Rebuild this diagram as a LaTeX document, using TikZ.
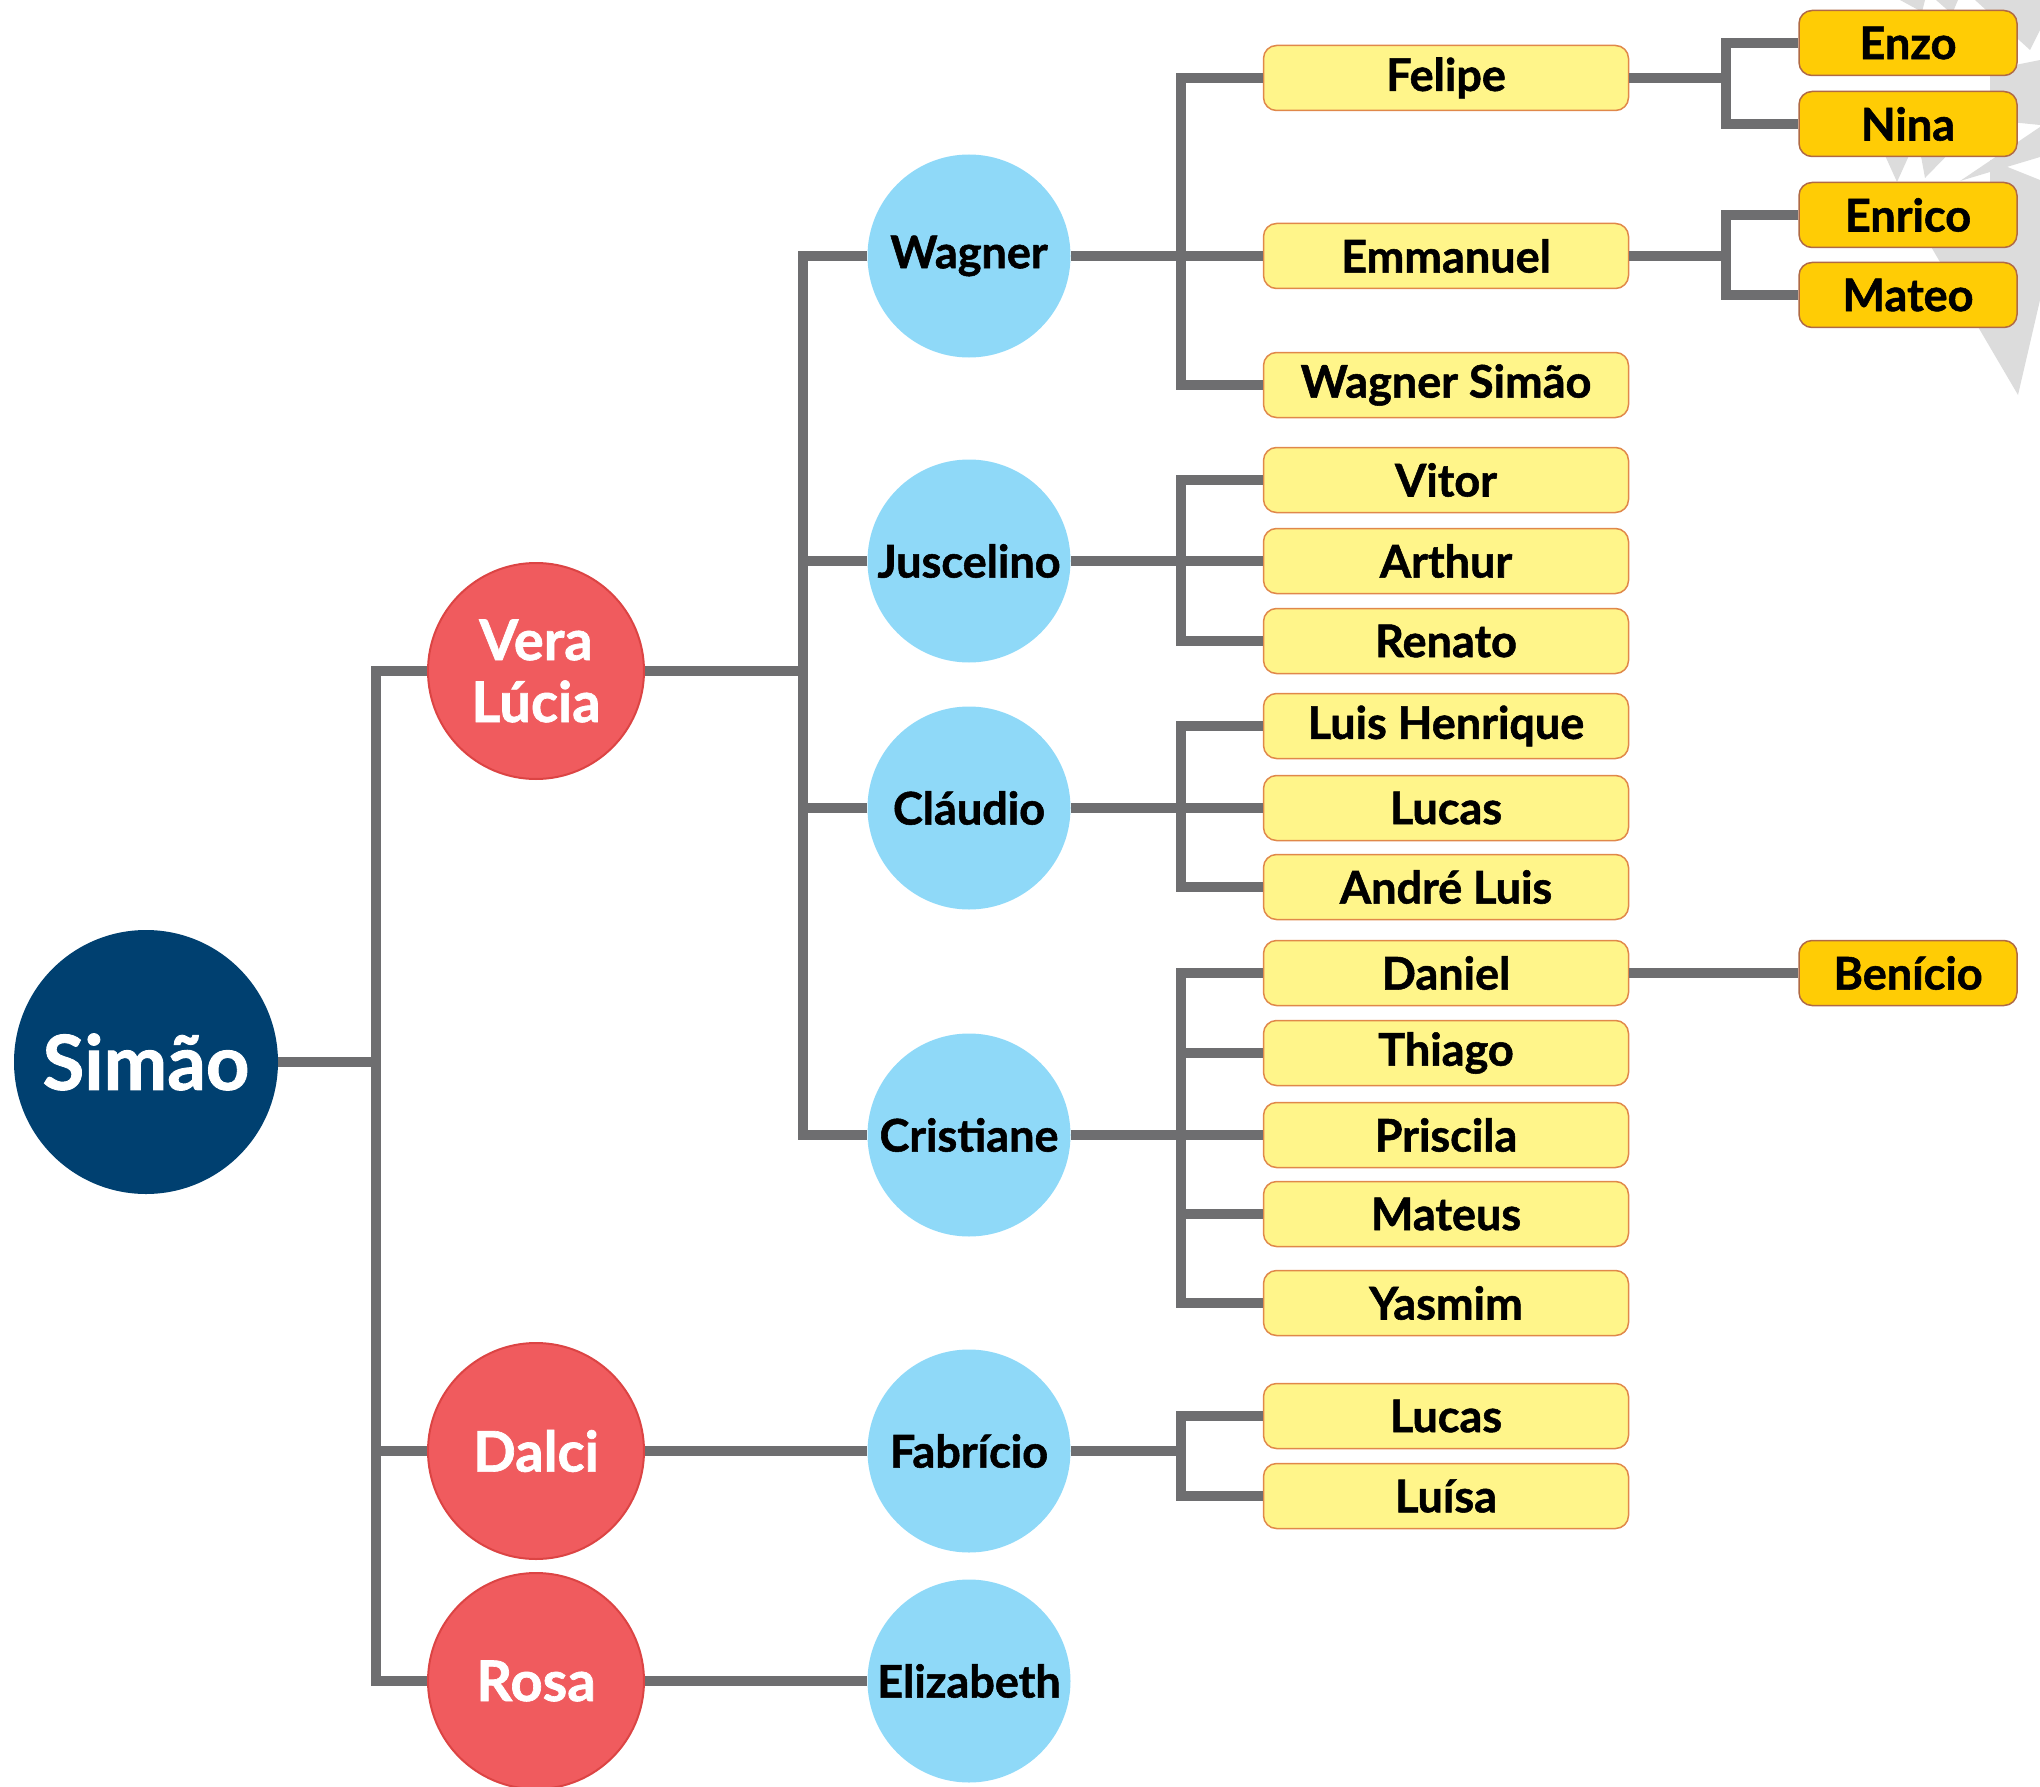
\documentclass[tikz,border=0pt]{standalone}
\usepackage{fontspec}
\setmainfont{Lato}[BoldFeatures={FakeBold=1.2}]
\definecolor{navy}{HTML}{004070}
\definecolor{redfill}{HTML}{F05B5E}
\definecolor{redline}{HTML}{DC4444}
\definecolor{bluefill}{HTML}{8FD9F8}
\definecolor{yelfill}{HTML}{FFF58A}
\definecolor{yelline}{HTML}{E0884A}
\definecolor{orfill}{HTML}{FFCC05}
\definecolor{orline}{HTML}{B06A45}
\definecolor{linkgray}{HTML}{6E6E70}
\definecolor{stargray}{HTML}{DCDCDC}
\begin{document}
\begin{tikzpicture}[x=1pt,y=-1pt,
    link/.style={draw=linkgray,line width=10pt,line join=miter},
    root/.style={circle,fill=navy,minimum size=264pt,inner sep=0pt,text=white,font=\fontsize{76}{80}\selectfont\bfseries},
    child/.style={circle,fill=redfill,draw=redline,line width=2pt,minimum size=216pt,inner sep=0pt,text=white,align=center,font=\fontsize{56}{62}\selectfont\bfseries},
    grand/.style={circle,fill=bluefill,minimum size=203pt,inner sep=0pt,font=\fontsize{45}{48}\selectfont\bfseries},
    ggrand/.style={rectangle,rounded corners=13pt,fill=yelfill,draw=yelline,line width=1.5pt,minimum width=365pt,minimum height=65pt,inner sep=0pt,font=\fontsize{45}{48}\selectfont\bfseries},
    gggrand/.style={rectangle,rounded corners=13pt,fill=orfill,draw=orline,line width=1.5pt,minimum width=218pt,minimum height=65pt,inner sep=0pt,font=\fontsize{45}{48}\selectfont\bfseries}]
  \useasboundingbox (0,0) rectangle (2040,1787);
  % background spikes
  \fill[stargray] (1930,245) -- (2040,232) -- (2040,300) -- (2018,395) -- cycle;
  \fill[stargray] (1878,140) -- (1916,140) -- (1897,182) -- cycle;
  \fill[stargray] (1918,140) -- (1962,140) -- (1925,178) -- cycle;
  \fill[stargray] (2040,127) -- (2040,157) -- (1960,181) -- cycle;
  \fill[stargray] (1990,160) -- (2040,180) -- (2040,237) -- (1990,240) -- cycle;
  \fill[stargray] (1975,0) -- (2040,0) -- (2040,30) -- (2030,50) -- cycle;
  \fill[stargray] (1990,70) -- (2040,60) -- (2040,125) -- (1990,120) -- cycle;
  \fill[stargray] (1900,0) -- (1925,0) -- (1922,12) -- cycle;
  \fill[stargray] (1936,0) -- (1958,0) -- (1952,14) -- cycle;
  % spines
  \coordinate (spineS) at (376,0);
  \coordinate (spineV) at (803,0);
  \coordinate (spineW) at (1181,0);
  \coordinate (spineF) at (1726,0);
  % root and children
  \node[root] (simao) at (146,1062) {Simão};
  \node[child] (vera) at (536,671) {Vera\\Lúcia};
  \node[child] (dalci) at (536,1451) {Dalci};
  \node[child] (rosa) at (536,1681) {Rosa};
  % grandchildren
  \node[grand] (wagner) at (969,256) {Wagner};
  \node[grand] (juscelino) at (969,561) {Juscelino};
  \node[grand] (claudio) at (969,808) {Cláudio};
  \node[grand] (cristiane) at (969,1135) {Cristiane};
  \node[grand] (fabricio) at (969,1451) {Fabrício};
  \node[grand] (elizabeth) at (969,1681) {Elizabeth};
  % great-grandchildren
  \node[ggrand] (felipe) at (1446,78) {Felipe};
  \node[ggrand] (emmanuel) at (1446,256) {Emmanuel};
  \node[ggrand] (wsimao) at (1446,385) {Wagner Simão};
  \node[ggrand] (vitor) at (1446,480) {Vitor};
  \node[ggrand] (arthur) at (1446,561) {Arthur};
  \node[ggrand] (renato) at (1446,641) {Renato};
  \node[ggrand] (luish) at (1446,726) {Luis Henrique};
  \node[ggrand] (lucasc) at (1446,808) {Lucas};
  \node[ggrand] (andre) at (1446,887) {André Luis};
  \node[ggrand] (daniel) at (1446,973) {Daniel};
  \node[ggrand] (thiago) at (1446,1053) {Thiago};
  \node[ggrand] (priscila) at (1446,1135) {Priscila};
  \node[ggrand] (mateus) at (1446,1214) {Mateus};
  \node[ggrand] (yasmim) at (1446,1303) {Yasmim};
  \node[ggrand] (lucasf) at (1446,1416) {Lucas};
  \node[ggrand] (luisa) at (1446,1496) {Luísa};
  % great-great-grandchildren
  \node[gggrand] (enzo) at (1908,43) {Enzo};
  \node[gggrand] (nina) at (1908,124) {Nina};
  \node[gggrand] (enrico) at (1908,215) {Enrico};
  \node[gggrand] (mateo) at (1908,295) {Mateo};
  \node[gggrand] (benicio) at (1908,973) {Benício};
  % links: Simão
  \draw[link] (simao.east) -- (simao.east -| spineS);
  \draw[link] (vera.west) -- (vera.west -| spineS) |- (rosa.west);
  \draw[link] (dalci.west) -- (dalci.west -| spineS);
  % links: Vera Lúcia
  \draw[link] (vera.east) -- (vera.east -| spineV);
  \draw[link] (wagner.west) -- (wagner.west -| spineV) |- (cristiane.west);
  \draw[link] (juscelino.west) -- (juscelino.west -| spineV);
  \draw[link] (claudio.west) -- (claudio.west -| spineV);
  \draw[link] (dalci.east) -- (fabricio.west);
  \draw[link] (rosa.east) -- (elizabeth.west);
  % links: grandchildren
  \draw[link] (felipe.west) -- (felipe.west -| spineW) |- (wsimao.west);
  \draw[link] (wagner.east) -- (emmanuel.west);
  \draw[link] (vitor.west) -- (vitor.west -| spineW) |- (renato.west);
  \draw[link] (juscelino.east) -- (arthur.west);
  \draw[link] (luish.west) -- (luish.west -| spineW) |- (andre.west);
  \draw[link] (claudio.east) -- (lucasc.west);
  \draw[link] (daniel.west) -- (daniel.west -| spineW) |- (yasmim.west);
  \draw[link] (cristiane.east) -- (priscila.west);
  \draw[link] (thiago.west) -- (thiago.west -| spineW);
  \draw[link] (mateus.west) -- (mateus.west -| spineW);
  \draw[link] (lucasf.west) -- (lucasf.west -| spineW) |- (luisa.west);
  \draw[link] (fabricio.east) -- (fabricio.east -| spineW);
  % links: great-grandchildren
  \draw[link] (enzo.west) -- (enzo.west -| spineF) |- (nina.west);
  \draw[link] (felipe.east) -- (felipe.east -| spineF);
  \draw[link] (enrico.west) -- (enrico.west -| spineF) |- (mateo.west);
  \draw[link] (emmanuel.east) -- (emmanuel.east -| spineF);
  \draw[link] (daniel.east) -- (benicio.west);
\end{tikzpicture}
\end{document}
